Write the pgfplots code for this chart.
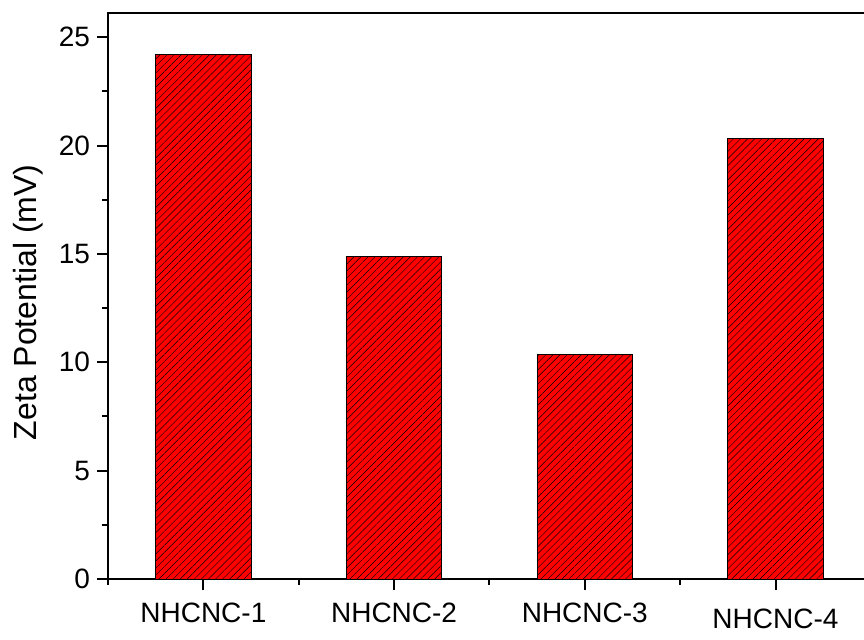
\documentclass[border=0pt]{standalone}
\usepackage{fontspec}
\setmainfont{Liberation Sans}
\usepackage{pgfplots}
\pgfplotsset{compat=1.18}
\usetikzlibrary{patterns.meta}
\begin{document}
\begin{tikzpicture}
\begin{axis}[
    at={(54pt,30pt)}, anchor=south west,
    scale only axis,
    width=380pt, height=283pt,
    xmin=0.5, xmax=4.485,
    ymin=0, ymax=26.12,
    xtick={1,2,3,4},
    xticklabels={NHCNC-1,NHCNC-2,NHCNC-3,\raisebox{-3pt}[\height][0pt]{NHCNC-4}},
    minor xtick={0.5,1.5,2.5,3.5},
    ytick={0,5,...,25},
    minor ytick={2.5,7.5,...,22.5},
    xtick pos=bottom, ytick pos=left,
    tick align=outside,
    major tick length=5.5pt, minor tick length=3pt,
    every tick/.append style={black, line width=1pt},
    axis line style={line width=1pt},
    /pgf/number format/assume math mode=true,
    tick label style={font=\fontsize{14}{16}\selectfont},
    xticklabel style={yshift=-5.5pt, inner sep=1pt},
    ylabel={Zeta Potential (mV)},
    ylabel style={font=\fontsize{16}{18}\selectfont, at={(axis description cs:-0.105,0.489)}, anchor=center},
    ybar, bar width=0.5,
    clip=false,
]
\addplot[draw=black, line width=0.5pt, fill=red,
    postaction={pattern={Lines[angle=45,distance=2.5pt,line width=0.22pt]}, pattern color=black}]
    coordinates {(1,24.2) (2,14.86) (3,10.38) (4,20.34)};
\end{axis}
\pgfresetboundingbox
\path[use as bounding box] (0,0) rectangle (432pt,319.5pt);
\end{tikzpicture}
\end{document}
